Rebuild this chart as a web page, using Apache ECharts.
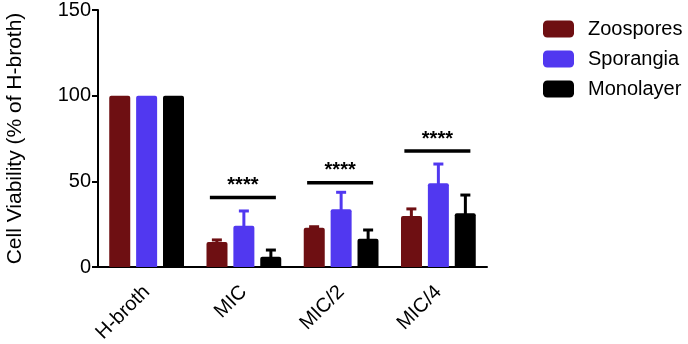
<!DOCTYPE html>
<html lang="en">
<head>
    <meta charset="UTF-8">
    <title>Cell Viability</title>
    <script src="https://cdn.jsdelivr.net/npm/echarts@6/dist/echarts.min.js"></script>
</head>
<body style="margin:0">
    <div id="main" style="width: 688px;height:344px;"></div>
    <script type="text/javascript">
        // categories and values
        var categories = ['H-broth', 'MIC', 'MIC/2', 'MIC/4'];
        var seriesNames = ['Zoospores', 'Sporangia', 'Monolayer'];
        var zoospores = [100, 14.6, 22.9, 29.8];
        var sporangia = [100, 24.1, 33.7, 48.9];
        var monolayer = [100, 6.0, 16.5, 31.3];
        // upper end of the error bars (null = none drawn)
        var zoosporesErr = [null, 15.8, 23.5, 33.9];
        var sporangiaErr = [null, 32.7, 43.6, 60.1];
        var monolayerErr = [null, 9.9, 21.6, 42.0];
        // significance bars: category and height
        var sigCats = ['MIC', 'MIC/2', 'MIC/4'];
        var sigLevels = [40.5, 49.2, 67.7];
        var sigText = '****';

        var colors = ['#6e0f12', '#5138f0', '#000000'];
        var values = [zoospores, sporangia, monolayer];
        var errs = [zoosporesErr, sporangiaErr, monolayerErr];

        var barW = 21;
        var step = 27; // bar width + gap between bars
        var font = '"Liberation Sans", Arial, sans-serif';

        var myChart = echarts.init(document.getElementById('main'));

        var series = [];
        // bars
        values.forEach(function (v, i) {
            series.push({
                name: seriesNames[i],
                type: 'bar',
                data: v,
                barWidth: barW,
                barGap: '28%',
                itemStyle: { color: colors[i], borderRadius: [2, 2, 0, 0] },
                z: 2
            });
        });
        // error bars, one custom series per group
        errs.forEach(function (e, i) {
            var data = [];
            e.forEach(function (top, k) {
                if (top !== null) data.push([k, values[i][k], top]);
            });
            series.push({
                type: 'custom',
                data: data,
                z: 1,
                silent: true,
                renderItem: function (params, api) {
                    var base = api.coord([api.value(0), api.value(1)]);
                    var top = api.coord([api.value(0), api.value(2)]);
                    var x = base[0] + (i - 1) * step;
                    var st = { stroke: colors[i], lineWidth: 3 };
                    return {
                        type: 'group',
                        children: [
                            { type: 'line', shape: { x1: x, y1: base[1] + 2, x2: x, y2: top[1] }, style: st },
                            { type: 'line', shape: { x1: x - 5, y1: top[1], x2: x + 5, y2: top[1] }, style: st }
                        ]
                    };
                }
            });
        });
        // significance lines with stars
        series.push({
            type: 'custom',
            data: sigCats.map(function (c, k) { return [c, sigLevels[k]]; }),
            silent: true,
            z: 3,
            renderItem: function (params, api) {
                var p = api.coord([api.value(0), api.value(1)]);
                return {
                    type: 'group',
                    children: [
                        { type: 'line', shape: { x1: p[0] - 34, y1: p[1], x2: p[0] + 32, y2: p[1] },
                          style: { stroke: '#000', lineWidth: 3.5 } },
                        { type: 'text', x: p[0] - 1, y: p[1] - 2,
                          style: { text: sigText, fill: '#000', font: 'bold 20px ' + font,
                                   align: 'center', verticalAlign: 'bottom' } }
                    ]
                };
            }
        });

        var option = {
            animation: false,
            color: colors,
            grid: { left: 98, right: 201, top: 10, bottom: 77, outerBoundsMode: 'none' },
            legend: {
                orient: 'vertical',
                left: 543, top: 19,
                padding: 0,
                itemWidth: 31, itemHeight: 17, itemGap: 10,
                icon: 'roundRect',
                data: seriesNames,
                textStyle: { fontSize: 20, color: '#000', fontFamily: font, padding: [0, 0, 0, 9] }
            },
            xAxis: {
                type: 'category',
                data: categories,
                axisLine: { lineStyle: { color: '#000', width: 2 } },
                axisTick: { alignWithLabel: true, length: 6, lineStyle: { width: 2, color: '#000' } },
                axisLabel: { rotate: 45, margin: 22, fontSize: 20, color: '#000', fontFamily: font }
            },
            yAxis: {
                type: 'value',
                min: 0, max: 150, interval: 50,
                name: 'Cell Viability (% of H-broth)',
                nameLocation: 'middle',
                nameGap: 72,
                nameTextStyle: { fontSize: 21, color: '#000', fontFamily: font },
                splitLine: { show: false },
                axisLine: { show: true, lineStyle: { color: '#000', width: 2 } },
                axisTick: { show: true, length: 6, lineStyle: { width: 2, color: '#000' } },
                axisLabel: { fontSize: 20, margin: 7, color: '#000', fontFamily: font }
            },
            series: series
        };

        myChart.setOption(option);
    </script>
</body>
</html>
